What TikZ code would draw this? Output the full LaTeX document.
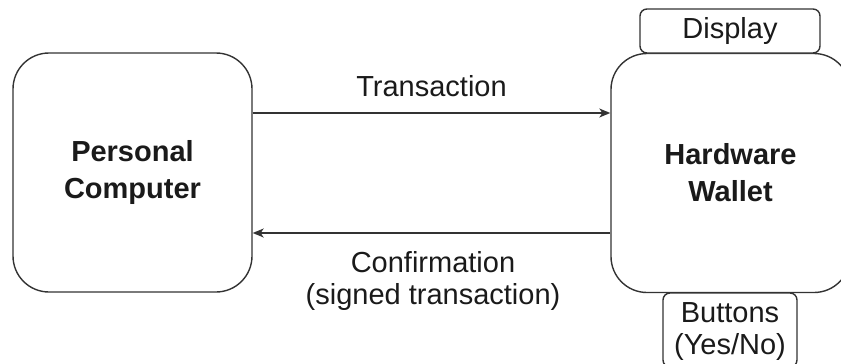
\documentclass[tikz,border=0pt]{standalone}
\usepackage{fontspec}
\setmainfont{Liberation Sans}
\usetikzlibrary{arrows.meta}
\definecolor{linec}{HTML}{333333}
\definecolor{txtc}{HTML}{1A1A1A}
\begin{document}
\begin{tikzpicture}[x=1pt,y=-1pt,
  bigbox/.style={draw=linec,line width=1.4pt,fill=white,rounded corners=36pt,minimum width=239pt,minimum height=239pt,inner sep=0pt,align=center,font=\fontsize{29}{37}\selectfont\bfseries,text=txtc},
  smallbox/.style={draw=linec,line width=1.4pt,fill=white,rounded corners=7pt,inner sep=0pt,align=center,font=\fontsize{29}{34}\selectfont,text=txtc},
  lbl/.style={font=\fontsize{29}{35}\selectfont,text=txtc,align=center,inner sep=0pt},
  arr/.style={draw=linec,line width=1.3pt,-{Stealth[length=11pt,width=9pt,inset=3pt]}}]
\useasboundingbox (0,0) rectangle (841,364);
\node[bigbox] (pc) at (132.5,172.5) {Personal\\Computer};
\node[bigbox] (hw) at (730.5,173) {Hardware\\Wallet};
\node[smallbox,minimum width=180pt,minimum height=44pt] (disp) at (730,31) {Display};
\node[smallbox,minimum width=134pt,minimum height=74pt] (btn) at (730,330) {};
\node[lbl] (btnl1) at (730,313) {Buttons};
\node[lbl] (btnl2) at (730,347) {(Yes/No)};
\draw[arr] ([yshift=59.5pt]pc.east) -- ([yshift=59.5pt]pc.east -| hw.west)
  node[lbl,midway,above=16pt] (tlab) {Transaction};
\draw[arr] ([yshift=-60.5pt]pc.east -| hw.west) -- ([yshift=-60.5pt]pc.east);
\node[lbl] (clab1) at (433,262) {Confirmation};
\node[lbl] (clab2) at (433,297) {(signed transaction)};
\end{tikzpicture}
\end{document}
